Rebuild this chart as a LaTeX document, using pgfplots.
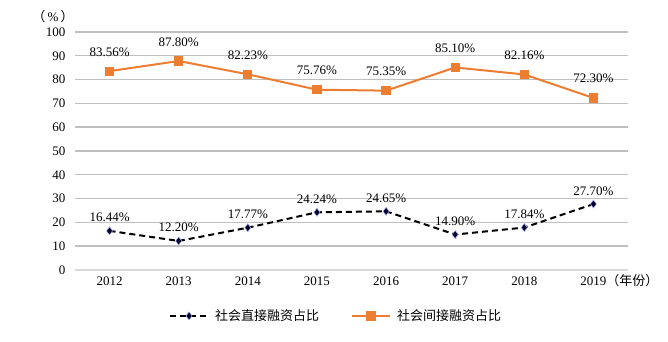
\documentclass[border=0pt]{standalone}
\usepackage{pgfplots}
\pgfplotsset{compat=1.18}
\usepackage{fontspec}
\setmainfont{Liberation Serif}
\newfontfamily\cjk{Noto Sans CJK SC}
\definecolor{orng}{RGB}{237,125,49}
\definecolor{grid}{RGB}{40,40,40}
\definecolor{base}{RGB}{217,217,217}
\begin{document}
\begin{tikzpicture}[x=1pt,y=1pt]
\path[use as bounding box] (0,0) rectangle (668,342);
\begin{axis}[
  at={(75pt,72pt)}, anchor=south west,
  scale only axis, width=553pt, height=238pt,
  xmin=-0.5, xmax=7.5, ymin=0, ymax=100,
  xtick={0,...,7},
  xticklabels={2012,2013,2014,2015,2016,2017,2018,{2019\rlap{\smash{\cjk （年份）}}}},
  ytick={10,20,...,100},
  extra y ticks={0}, extra y tick style={grid=none},
  axis line style={draw=none},
  xmajorgrids=false, ymajorgrids,
  major grid style={grid, line width=1.4pt},
  major tick length=0pt,
  tick style={draw=none},
  /pgf/number format/assume math mode=true,
  ticklabel style={font=\fontsize{13}{15}\selectfont},
  yticklabel style={xshift=-6pt},
  xticklabel style={yshift=-3pt},
  every node near coord/.append style={font=\fontsize{13}{15}\selectfont, anchor=base, black},
  legend style={at={(0.472,-0.193)}, anchor=center, draw=none, legend columns=2,
    font=\cjk\fontsize{13}{15}\selectfont, column sep=4pt,
    /tikz/every even column/.append style={column sep=30pt}},
  legend image code/.code={\draw[mark repeat=2,mark phase=2] plot coordinates {(0pt,0pt)(19pt,0pt)(38pt,0pt)};},
  clip=false,
]
\draw[base, line width=2pt] (axis cs:-0.5,0) -- (axis cs:7.5,0);
\addplot[black, dashed, dash pattern=on 6pt off 4pt, line width=2pt, mark=diamond*, mark size=4pt,
  mark options={solid, fill=black!85!blue, draw=blue!35!white, line width=0.5pt},
  nodes near coords={\pgfmathprintnumber[fixed,fixed zerofill,precision=2]{\pgfplotspointmeta}\%},
  every node near coord/.append style={yshift=9pt}]
  coordinates {(0,16.44)(1,12.20)(2,17.77)(3,24.24)(4,24.65)(5,14.90)(6,17.84)(7,27.70)};
\addlegendentry{社会直接融资占比}
\addplot[orng, line width=2pt, mark=square*, mark size=3.6pt, mark options={solid, fill=orng, draw=orng},
  nodes near coords={\pgfmathprintnumber[fixed,fixed zerofill,precision=2]{\pgfplotspointmeta}\%},
  every node near coord/.append style={yshift=15pt}]
  coordinates {(0,83.56)(1,87.80)(2,82.23)(3,75.76)(4,75.35)(5,85.10)(6,82.16)(7,72.30)};
\addlegendentry{社会间接融资占比}
\end{axis}
\node[font=\fontsize{13}{15}\selectfont] at (53,325) {{\cjk （}\,\%\,{\cjk ）}};
\end{tikzpicture}
\end{document}
